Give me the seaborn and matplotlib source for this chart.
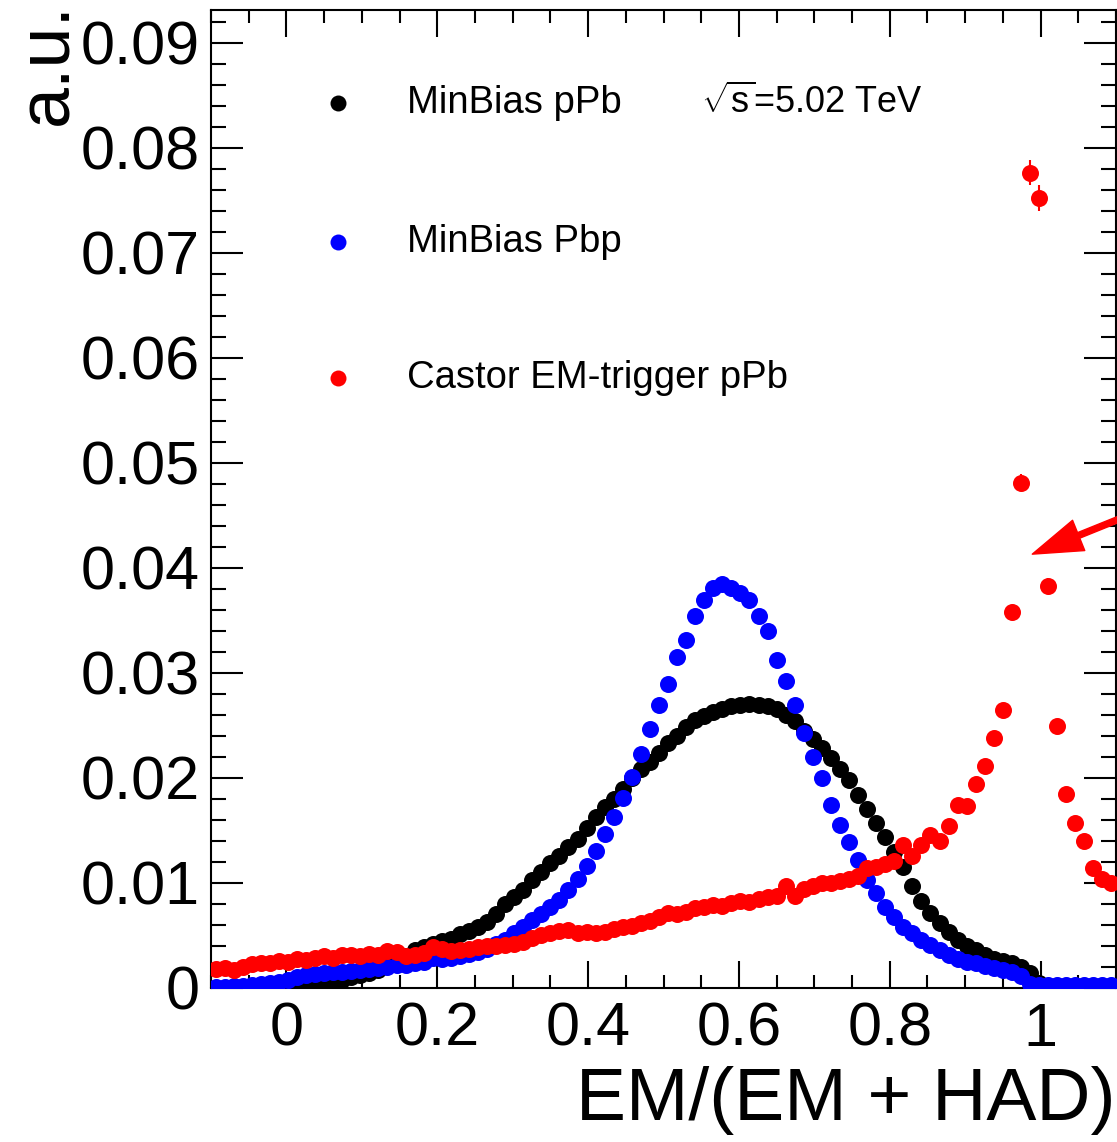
import numpy as np
import pandas as pd
import matplotlib
matplotlib.use("Agg")
import matplotlib.pyplot as plt
from matplotlib.ticker import MultipleLocator, FixedLocator, FuncFormatter
import seaborn as sns

# ---------------- data ----------------
# 100 bins of width 0.012 over [-0.1, 1.1]
bin_lo, bin_hi, n_bins = -0.1, 1.1, 100
edges = np.linspace(bin_lo, bin_hi, n_bins + 1)
x_centers = 0.5 * (edges[:-1] + edges[1:])

minbias_pPb = [
    0.0000, 0.0000, 0.0001, 0.0001, 0.0001, 0.0002, 0.0002, 0.0003, 0.0003, 0.0004,
    0.0005, 0.0005, 0.0006, 0.0007, 0.0008, 0.0010, 0.0012, 0.0014, 0.0017, 0.0021,
    0.0025, 0.0030, 0.0036, 0.0039, 0.0042, 0.0045, 0.0047, 0.0051, 0.0054, 0.0058,
    0.0063, 0.0070, 0.0080, 0.0087, 0.0093, 0.0103, 0.0110, 0.0119, 0.0126, 0.0134,
    0.0142, 0.0152, 0.0163, 0.0172, 0.0180, 0.0189, 0.0200, 0.0208, 0.0215, 0.0224,
    0.0233, 0.0240, 0.0248, 0.0255, 0.0259, 0.0263, 0.0266, 0.0268, 0.0269, 0.0270,
    0.0269, 0.0268, 0.0266, 0.0260, 0.0254, 0.0245, 0.0237, 0.0228, 0.0219, 0.0208,
    0.0198, 0.0184, 0.0170, 0.0157, 0.0144, 0.0129, 0.0115, 0.0097, 0.0083, 0.0071,
    0.0062, 0.0053, 0.0046, 0.0040, 0.0036, 0.0031, 0.0028, 0.0026, 0.0024, 0.0020,
    0.0014, 0.0005, 0.0000, 0.0000, 0.0000, 0.0000, 0.0000, 0.0000, 0.0000, 0.0000]

minbias_Pbp = [
    0.0001, 0.0001, 0.0002, 0.0002, 0.0003, 0.0004, 0.0005, 0.0006, 0.0008, 0.0010,
    0.0012, 0.0013, 0.0014, 0.0015, 0.0015, 0.0016, 0.0017, 0.0018, 0.0019, 0.0020,
    0.0022, 0.0022, 0.0024, 0.0025, 0.0029, 0.0028, 0.0029, 0.0030, 0.0032, 0.0034,
    0.0037, 0.0042, 0.0046, 0.0052, 0.0058, 0.0065, 0.0070, 0.0077, 0.0084, 0.0093,
    0.0104, 0.0116, 0.0130, 0.0147, 0.0163, 0.0181, 0.0201, 0.0223, 0.0247, 0.0269,
    0.0289, 0.0315, 0.0331, 0.0354, 0.0369, 0.0381, 0.0385, 0.0381, 0.0376, 0.0369,
    0.0354, 0.0340, 0.0312, 0.0292, 0.0269, 0.0243, 0.0220, 0.0200, 0.0174, 0.0155,
    0.0139, 0.0122, 0.0103, 0.0090, 0.0077, 0.0068, 0.0058, 0.0052, 0.0046, 0.0041,
    0.0036, 0.0031, 0.0028, 0.0025, 0.0024, 0.0021, 0.0019, 0.0017, 0.0015, 0.0011,
    0.0004, 0.0003, 0.0003, 0.0003, 0.0003, 0.0003, 0.0003, 0.0003, 0.0003, 0.0003]

castor_em_pPb = [
    0.0018, 0.0019, 0.0017, 0.0020, 0.0023, 0.0024, 0.0024, 0.0026, 0.0025, 0.0028,
    0.0027, 0.0029, 0.0030, 0.0029, 0.0031, 0.0031, 0.0030, 0.0032, 0.0031, 0.0035,
    0.0034, 0.0030, 0.0031, 0.0033, 0.0039, 0.0037, 0.0035, 0.0036, 0.0037, 0.0039,
    0.0040, 0.0040, 0.0041, 0.0042, 0.0044, 0.0048, 0.0050, 0.0052, 0.0054, 0.0055,
    0.0052, 0.0053, 0.0052, 0.0053, 0.0056, 0.0058, 0.0059, 0.0062, 0.0064, 0.0068,
    0.0071, 0.0070, 0.0072, 0.0076, 0.0077, 0.0079, 0.0078, 0.0081, 0.0083, 0.0082,
    0.0085, 0.0087, 0.0088, 0.0097, 0.0088, 0.0094, 0.0097, 0.0100, 0.0100, 0.0102,
    0.0104, 0.0107, 0.0114, 0.0115, 0.0118, 0.0121, 0.0136, 0.0126, 0.0136, 0.0146,
    0.0140, 0.0154, 0.0174, 0.0173, 0.0194, 0.0211, 0.0238, 0.0265, 0.0358, 0.0481,
    0.0776, 0.0752, 0.0383, 0.0249, 0.0185, 0.0157, 0.0140, 0.0114, 0.0104, 0.0100]

castor_em_err = [0.0] * 88 + [0.0006, 0.0008, 0.0012, 0.0012, 0.0007, 0.0005,
                              0.0004, 0.0004, 0.0003, 0.0003, 0.0003, 0.0003]

series_names = ["MinBias pPb", "MinBias Pbp", "Castor EM-trigger pPb"]
series_colors = ["#000000", "#0000ff", "#ff0000"]
energy_label = r"$\sqrt{s}$=5.02 TeV"
x_title = "EM/(EM + HAD)"
y_title = "a.u."

df = pd.DataFrame({
    "x": x_centers,
    series_names[0]: minbias_pPb,
    series_names[1]: minbias_Pbp,
    series_names[2]: castor_em_pPb,
})

# ---------------- style ----------------
sns.set_style("ticks")
plt.rcParams["font.family"] = ["Liberation Sans", "DejaVu Sans"]
plt.rcParams["mathtext.fontset"] = "custom"
plt.rcParams["mathtext.rm"] = "Liberation Sans"
plt.rcParams["mathtext.it"] = "Liberation Sans"
for k in ["text.color", "axes.labelcolor", "xtick.color", "ytick.color", "axes.edgecolor"]:
    plt.rcParams[k] = "black"

W, H = 1117, 1142
fig = plt.figure(figsize=(W / 100, H / 100), dpi=100)
ax = fig.add_axes([211 / W, 1 - 988 / H, (1116 - 211) / W, (988 - 10) / H])

msize = 150
for name, col in zip(series_names, series_colors):
    sns.scatterplot(data=df, x="x", y=name, color=col, s=msize, marker="o",
                    linewidth=0, ax=ax, zorder=3, legend=False)

ax.errorbar(x_centers, castor_em_pPb, yerr=castor_em_err, fmt="none",
            ecolor="#ff0000", elinewidth=1.5, capsize=0, zorder=2)

ax.set_xlim(bin_lo, bin_hi)
ax.set_ylim(0, 0.0931)

ax.xaxis.set_major_locator(FixedLocator([0, 0.2, 0.4, 0.6, 0.8, 1.0]))
ax.xaxis.set_minor_locator(MultipleLocator(0.05))
ax.yaxis.set_major_locator(MultipleLocator(0.01))
ax.yaxis.set_minor_locator(MultipleLocator(0.002))

def fmt(v, pos):
    if abs(v) < 1e-9:
        return "0"
    return f"{v:.2f}".rstrip("0").rstrip(".")
ax.xaxis.set_major_formatter(FuncFormatter(fmt))
ax.yaxis.set_major_formatter(FuncFormatter(lambda v, p: "0" if abs(v) < 1e-9 else f"{v:.2f}"))

ax.tick_params(which="both", direction="in", top=True, right=True,
               width=1.5, colors="black")
ax.tick_params(axis="x", which="major", length=19.5, labelsize=44, pad=10)
ax.tick_params(axis="x", which="minor", length=9.5)
ax.tick_params(axis="y", which="major", length=23, labelsize=44, pad=8)
ax.tick_params(axis="y", which="minor", length=10.5)
for sp in ax.spines.values():
    sp.set_linewidth(1.5)
    sp.set_visible(True)

ax.set_xlabel("")
ax.set_ylabel("")
fig.text(0.9985, 0.006, x_title, ha="right", va="bottom", fontsize=54)
fig.text(0.012, 0.998, y_title, ha="left", va="top", rotation=90, fontsize=53)

# legend (drawn as in the ROOT canvas)
leg_y = [(988 - 103) / 978, (988 - 242) / 978, (988 - 378) / 978]
for name, col, yy in zip(series_names, series_colors, leg_y):
    ax.plot([0.1403], [yy], marker="o", ms=11.5, color=col, mew=0,
            transform=ax.transAxes, clip_on=False)
    ax.text(0.2166, yy, name, transform=ax.transAxes, ha="left", va="center",
            fontsize=27.5)
ax.text(0.541, leg_y[0], energy_label, transform=ax.transAxes, ha="left",
        va="center", fontsize=26)

# red arrow
ax.annotate("", xy=(0.989, 0.0413), xytext=(1.12, 0.0451),
            arrowprops=dict(facecolor="#ff0000", edgecolor="#ff0000",
                            width=4.3, headwidth=23.5, headlength=36),
            annotation_clip=False, zorder=5)

fig.savefig("out.png", dpi=100)
